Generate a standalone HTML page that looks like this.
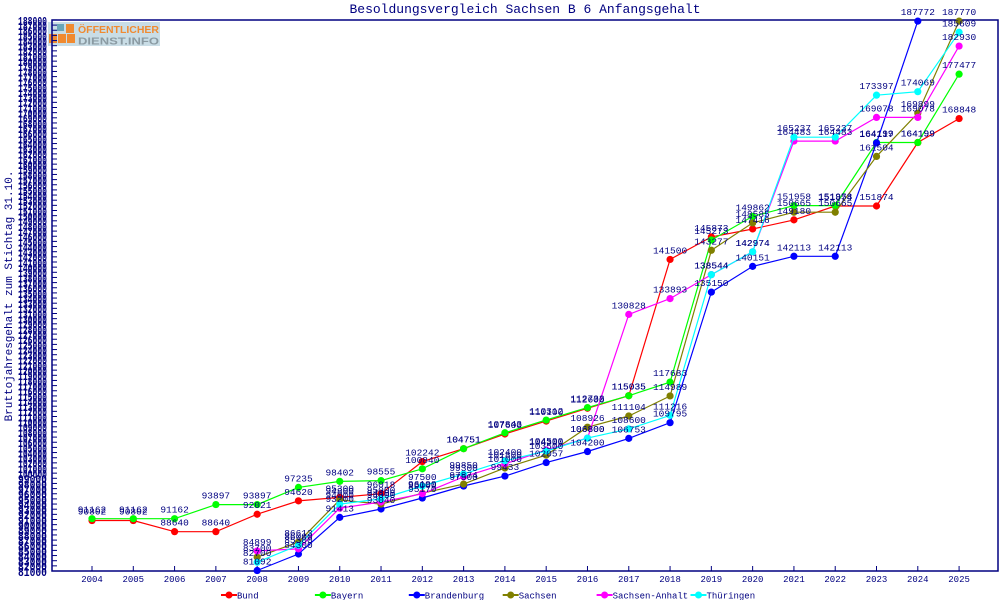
<!DOCTYPE html>
<html><head><meta charset="utf-8"><style>
html,body{margin:0;padding:0;background:#fff;}
svg{display:block;font-family:"Liberation Mono","DejaVu Sans Mono",monospace;}
</style></head><body>
<svg id="c" width="1000" height="600" viewBox="0 0 1000 600" xmlns="http://www.w3.org/2000/svg"></svg>
<script>
(function(){
var s=document.getElementById('c');var h='';
function Y(v){return 571-(v-81000)*0.00515;}
function X(i){return 92+i*41.29;}
// logo
h+='<rect x="48" y="22" width="112" height="24" fill="#c9dde6"/>';
h+='<rect x="57" y="24" width="7" height="7" fill="#6aa6b8"/><rect x="66" y="24" width="8" height="9" fill="#f08a30"/>';
h+='<rect x="49" y="34" width="8" height="9" fill="#f08a30"/><rect x="58" y="34" width="8" height="9" fill="#f08a30"/><rect x="67" y="34" width="8" height="9" fill="#f08a30"/>';
h+='<text x="78" y="33" font-family="Liberation Sans,sans-serif" font-weight="bold" font-size="10" textLength="81" lengthAdjust="spacingAndGlyphs" fill="#f08a30">ÖFFENTLICHER</text>';
h+='<text x="78" y="44.5" font-family="Liberation Sans,sans-serif" font-weight="bold" font-size="10.5" textLength="81" lengthAdjust="spacingAndGlyphs" fill="#8a9aa2">DIENST.INFO</text>';
// title
h+='<text x="525" y="13" text-anchor="middle" font-size="13" fill="#000080">Besoldungsvergleich Sachsen B 6 Anfangsgehalt</text>';
h+='<text transform="translate(12,296) rotate(-90)" text-anchor="middle" font-size="11" fill="#000080">Bruttojahresgehalt zum Stichtag 31.10.</text>';
// frame
h+='<rect x="52" y="20" width="946" height="551" fill="none" stroke="#000080" stroke-width="1.5"/>';
for(var v=81000;v<=188000;v+=1000){var y=Y(v);
h+='<line x1="52" x2="57" y1="'+y+'" y2="'+y+'" stroke="#000080"/>';
h+='<text x="47" y="'+(y+3.5)+'" text-anchor="end" font-size="8.5" font-weight="bold" textLength="29" lengthAdjust="spacingAndGlyphs" fill="#000080" transform="translate(0,'+(y)+') scale(1,1.4) translate(0,'+(-y)+')">'+v+'</text>';}
for(var i=0;i<22;i++){var x=X(i);h+='<line x1="'+x+'" x2="'+x+'" y1="566" y2="571" stroke="#000080"/>';
h+='<text x="'+x+'" y="582" text-anchor="middle" font-size="9" fill="#000080">'+(2004+i)+'</text>';}
var S=[
['Bund','#ff0000',0,[90802,90802,88640,88640,92021,94620,95300,96018,102242,104751,107600,110100,112600,115035,141500,145873,147416,149180,151874,151874,164199,168848]],
['Bayern','#00ff00',0,[91162,91162,91162,93897,93897,97235,98402,98555,100840,104751,107843,110312,112733,115035,117683,145273,149862,151958,151958,164199,164199,177477]],
['Brandenburg','#0000ff',4,[81092,84300,91413,93040,95170,97500,99433,102057,104200,106753,109795,135150,140151,142113,142113,164117,187772]],
['Sachsen','#808000',4,[83700,86613,94800,94000,96100,97874,101000,103500,108926,111104,114989,143277,148585,150665,150665,161504,169899,187770]],
['Sachsen-Anhalt','#ff00ff',4,[84899,85300,93200,94400,96000,99300,101800,104500,106800,130828,133893,138544,142974,164483,164483,169078,169078,182930]],
['Thüringen','#00ffff',4,[82700,86000,94000,95000,97500,99850,102400,104300,106800,108600,111216,138544,142974,165237,165237,173397,174069,185609]]];
var lab='';
S.forEach(function(se,k){var p='';se[3].forEach(function(v,j){p+=(j?'L':'M')+X(j+se[2]).toFixed(1)+','+Y(v).toFixed(1);});
h+='<path d="'+p+'" fill="none" stroke="'+se[1]+'" stroke-width="1.2"/>';
se[3].forEach(function(v,j){var x=X(j+se[2]),y=Y(v);
h+='<circle cx="'+x+'" cy="'+y+'" r="3.6" fill="'+se[1]+'"/>';
lab+='<text x="'+x+'" y="'+(y-6)+'" text-anchor="middle" font-size="9.5" fill="#000080">'+v+'</text>';});
var lx=229+k*93.9;h+='<line x1="'+(lx-8)+'" x2="'+(lx+8)+'" y1="595" y2="595" stroke="'+se[1]+'" stroke-width="2"/><circle cx="'+lx+'" cy="595" r="3.5" fill="'+se[1]+'"/>';
h+='<text x="'+(lx+8)+'" y="598.5" font-size="9" fill="#000080">'+se[0]+'</text>';});
h+=lab;
s.innerHTML=h;
})();
</script>
</body></html>
